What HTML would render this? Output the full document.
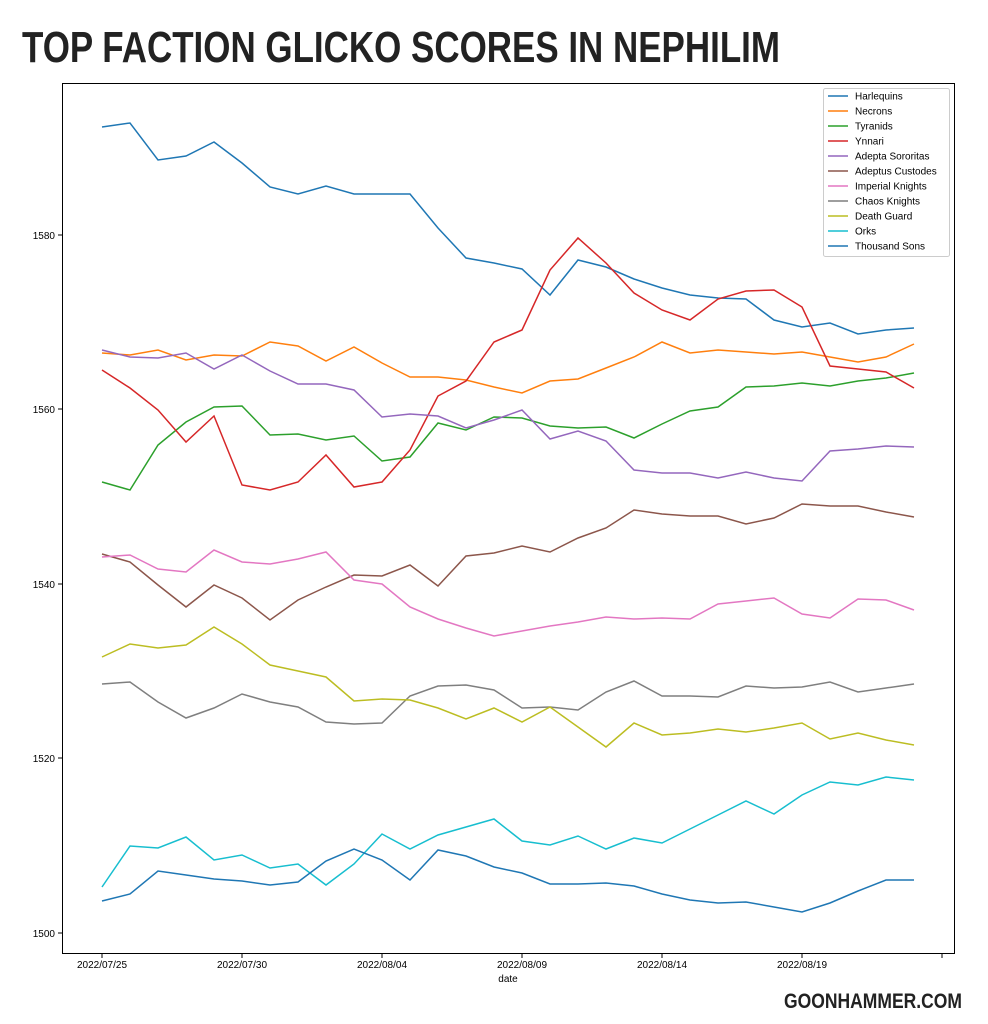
<!DOCTYPE html>
<html><head><meta charset="utf-8"><style>
body{margin:0;background:#fff;}
svg{display:block;font-family:"Liberation Sans",sans-serif;}
</style></head><body>
<svg width="988" height="1024" viewBox="0 0 988 1024" xmlns="http://www.w3.org/2000/svg">
<rect width="988" height="1024" fill="#fff"/>
<text x="22" y="62" font-family="Liberation Sans Narrow, Liberation Sans, sans-serif" font-weight="bold" font-size="44" fill="#222" textLength="758" lengthAdjust="spacingAndGlyphs">TOP FACTION GLICKO SCORES IN NEPHILIM</text>
<text x="962" y="1008" text-anchor="end" font-family="Liberation Sans Narrow, Liberation Sans, sans-serif" font-weight="bold" font-size="21" fill="#222" textLength="178" lengthAdjust="spacingAndGlyphs">GOONHAMMER.COM</text>
<rect x="62.5" y="83.5" width="892" height="870" fill="none" stroke="#000" stroke-width="1"/>
<g font-size="10" fill="#000" text-anchor="end">
<line x1="58" y1="933" x2="62" y2="933" stroke="#000"/><text x="55" y="937">1500</text>
<line x1="58" y1="758" x2="62" y2="758" stroke="#000"/><text x="55" y="762">1520</text>
<line x1="58" y1="584" x2="62" y2="584" stroke="#000"/><text x="55" y="588">1540</text>
<line x1="58" y1="409" x2="62" y2="409" stroke="#000"/><text x="55" y="413">1560</text>
<line x1="58" y1="235" x2="62" y2="235" stroke="#000"/><text x="55" y="239">1580</text>
</g>
<g font-size="10" fill="#000" text-anchor="middle" stroke-width="1">
<line x1="102" y1="954" x2="102" y2="958" stroke="#000"/><text x="102" y="968">2022/07/25</text>
<line x1="242" y1="954" x2="242" y2="958" stroke="#000"/><text x="242" y="968">2022/07/30</text>
<line x1="382" y1="954" x2="382" y2="958" stroke="#000"/><text x="382" y="968">2022/08/04</text>
<line x1="522" y1="954" x2="522" y2="958" stroke="#000"/><text x="522" y="968">2022/08/09</text>
<line x1="662" y1="954" x2="662" y2="958" stroke="#000"/><text x="662" y="968">2022/08/14</text>
<line x1="802" y1="954" x2="802" y2="958" stroke="#000"/><text x="802" y="968">2022/08/19</text>
<line x1="942" y1="954" x2="942" y2="958" stroke="#000"/>
<text x="508" y="982">date</text>
</g>
<g fill="none" stroke-width="1.5" id="lines"></g>
<g id="legend">
<rect x="823.5" y="88.5" width="126" height="168" fill="#fff" stroke="#ccc" rx="2"/>
</g>
<script>
const S=[
["Harlequins","#1f77b4",[127,123,160,156,142,163,187,194,186,194,194,194,228,258,263,269,295,260,267,279,288,295,298,299,320,327,323,334,330,328]],
["Necrons","#ff7f0e",[353,355,350,360,355,356,342,346,361,347,363,377,377,380,387,393,381,379,368,357,342,353,350,352,354,352,357,362,357,344]],
["Tyranids","#2ca02c",[482,490,445,422,407,406,435,434,440,436,461,457,423,430,417,418,426,428,427,438,424,411,407,387,386,383,386,381,378,373]],
["Ynnari","#d62728",[370,388,410,442,416,485,490,482,455,487,482,450,396,381,342,330,270,238,263,293,310,320,299,291,290,307,366,369,372,388]],
["Adepta Sororitas","#9467bd",[350,357,358,353,369,355,371,384,384,390,417,414,416,428,420,410,439,431,441,470,473,473,478,472,478,481,451,449,446,447]],
["Adeptus Custodes","#8c564b",[554,562,585,607,585,598,620,600,587,575,576,565,586,556,553,546,552,538,528,510,514,516,516,524,518,504,506,506,512,517]],
["Imperial Knights","#e377c2",[557,555,569,572,550,562,564,559,552,580,584,607,619,628,636,631,626,622,617,619,618,619,604,601,598,614,618,599,600,610]],
["Chaos Knights","#7f7f7f",[684,682,702,718,708,694,702,707,722,724,723,696,686,685,690,708,707,710,692,681,696,696,697,686,688,687,682,692,688,684]],
["Death Guard","#bcbd22",[657,644,648,645,627,644,665,671,677,701,699,700,708,719,708,722,707,727,747,723,735,733,729,732,728,723,739,733,740,745]],
["Orks","#17becf",[887,846,848,837,860,855,868,864,885,864,834,849,835,827,819,841,845,836,849,838,843,829,815,801,814,795,782,785,777,780]],
["Thousand Sons","#1f77b4",[901,894,871,875,879,881,885,882,861,849,860,880,850,856,867,873,884,884,883,886,894,900,903,902,907,912,903,891,880,880]]
];
const NS="http://www.w3.org/2000/svg";
const g=document.getElementById("lines"),L=document.getElementById("legend");
S.forEach((s,k)=>{
 const p=document.createElementNS(NS,"polyline");
 p.setAttribute("points",s[2].map((y,i)=>(102+28*i)+","+y).join(" "));
 p.setAttribute("stroke",s[1]);g.appendChild(p);
 const yy=96+15*k;
 const l=document.createElementNS(NS,"line");
 l.setAttribute("x1",828);l.setAttribute("x2",848);l.setAttribute("y1",yy);l.setAttribute("y2",yy);
 l.setAttribute("stroke",s[1]);l.setAttribute("stroke-width","1.5");L.appendChild(l);
 const t=document.createElementNS(NS,"text");
 t.setAttribute("x",855);t.setAttribute("y",yy+3.5);t.setAttribute("font-size","10");t.textContent=s[0];L.appendChild(t);
});
</script>
</svg>
</body></html>
